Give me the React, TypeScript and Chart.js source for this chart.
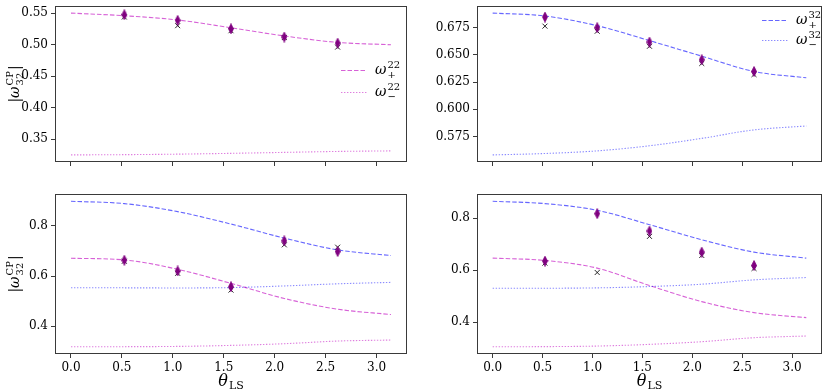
import React, { useEffect, useRef } from "react";
import { Chart, registerables } from "chart.js";
Chart.register(...registerables);

// ---------------- data ----------------
const THETA_CURVE = [0, 0.5236, 1.0472, 1.5708, 2.0944, 2.618, 3.1416];
const THETA_POINTS = [0.5236, 1.0472, 1.5708, 2.0944, 2.618];
const X_TICKS = [0, 0.5, 1.0, 1.5, 2.0, 2.5, 3.0];

// top-left panel (omega^22)
const A_PLUS = [0.55, 0.5458, 0.5391, 0.5267, 0.5137, 0.5035, 0.4998];
const A_MINUS = [0.325, 0.3254, 0.3262, 0.3275, 0.329, 0.3305, 0.3314];
const A_DIAMOND = [0.5474, 0.5385, 0.525, 0.512, 0.5024];
const A_CROSS = [0.5438, 0.53, 0.522, 0.5112, 0.496];
const A_YTICKS = [0.35, 0.4, 0.45, 0.5, 0.55];

// top-right panel (omega^32)
const B_PLUS = [0.6884, 0.6857, 0.6768, 0.6631, 0.6488, 0.6347, 0.6289];
const B_MINUS = [0.558, 0.5593, 0.5617, 0.5664, 0.5732, 0.581, 0.5846];
const B_DIAMOND = [0.6848, 0.675, 0.6618, 0.6455, 0.6347];
const B_CROSS = [0.6764, 0.6717, 0.6579, 0.6421, 0.6319];
const B_YTICKS = [0.575, 0.6, 0.625, 0.65, 0.675];

// bottom-left panel
const C_PLUS32 = [0.8973, 0.888, 0.856, 0.8067, 0.7507, 0.704, 0.6813];
const C_MINUS32 = [0.5533, 0.553, 0.5525, 0.554, 0.5605, 0.569, 0.5747];
const C_PLUS22 = [0.6707, 0.664, 0.6267, 0.5707, 0.5107, 0.468, 0.4467];
const C_MINUS22 = [0.3187, 0.3189, 0.32, 0.324, 0.3307, 0.3413, 0.3453];
const C_DIAMOND = [0.6627, 0.62, 0.5573, 0.74, 0.6973];
const C_CROSS = [0.6587, 0.6107, 0.544, 0.724, 0.7147];
const C_YTICKS = [0.4, 0.6, 0.8];

// bottom-right panel
const D_PLUS32 = [0.8656, 0.8566, 0.8309, 0.7756, 0.7177, 0.6701, 0.647];
const D_MINUS32 = [0.5312, 0.5312, 0.5325, 0.5376, 0.5466, 0.5633, 0.5723];
const D_PLUS22 = [0.647, 0.638, 0.6084, 0.5415, 0.4797, 0.4373, 0.418];
const D_MINUS22 = [0.3061, 0.3065, 0.3087, 0.3151, 0.3254, 0.3408, 0.3473];
const D_DIAMOND = [0.6354, 0.818, 0.7511, 0.6701, 0.6187];
const D_CROSS = [0.6277, 0.5916, 0.7305, 0.6572, 0.6071];
const D_YTICKS = [0.4, 0.6, 0.8];

// ---------------- styles ----------------
const FONT = "'DejaVu Serif', serif";
const FRAME = "#3a3a3a";
const MAG_DASH = "rgba(191,0,191,0.62)";
const MAG_DOT = "rgba(191,0,191,0.5)";
const BLUE_DASH = "rgba(0,0,255,0.6)";
const BLUE_DOT = "rgba(0,0,255,0.45)";
const PURPLE = "#800080";

type LineSpec = { values: number[]; color: string; dotted: boolean };
type LegendSpec = {
  x: number;
  y: number;
  gap: number;
  sup: string;
  items: { color: string; dotted: boolean; sub: string }[];
};
type PanelSpec = {
  left: number;
  top: number;
  width: number;
  height: number;
  padTop: number;
  padRight: number;
  yAxisW: number;
  xAxisH: number;
  yTicks: number[];
  yDec: number;
  showXLabels: boolean;
  lines: LineSpec[];
  diamonds: number[];
  crosses: number[];
  legend?: LegendSpec;
  ylabel: boolean;
  xlabel: boolean;
};

const X_MIN = -0.157;
const X_MAX = 3.299;

function makeDiamond(): HTMLCanvasElement {
  const c = document.createElement("canvas");
  c.width = 6;
  c.height = 11;
  const g = c.getContext("2d")!;
  g.fillStyle = PURPLE;
  g.strokeStyle = PURPLE;
  g.lineWidth = 0.8;
  g.beginPath();
  g.moveTo(3, 0.5);
  g.lineTo(5.5, 5.5);
  g.lineTo(3, 10.5);
  g.lineTo(0.5, 5.5);
  g.closePath();
  g.fill();
  g.stroke();
  return c;
}

function drawOmega(ctx: CanvasRenderingContext2D, x: number, base: number, sup: string, sub: string, size: number) {
  ctx.font = `italic ${size}px ${FONT}`;
  ctx.fillText("ω", x, base);
  const w = ctx.measureText("ω").width;
  const s = Math.round(size * 0.7);
  ctx.font = `${s}px ${FONT}`;
  ctx.fillText(sup, x + w + 1, base - size * 0.42);
  ctx.fillText(sub, x + w + 1, base + size * 0.32);
}

function drawYLabel(ctx: CanvasRenderingContext2D, cx: number, cy: number) {
  ctx.save();
  ctx.translate(cx, cy);
  ctx.rotate(-Math.PI / 2);
  ctx.fillStyle = "#000";
  ctx.textBaseline = "alphabetic";
  ctx.textAlign = "left";
  const big = 14;
  const small = 10;
  ctx.font = `${big}px ${FONT}`;
  const bar = ctx.measureText("|").width;
  ctx.font = `italic ${big}px ${FONT}`;
  const om = ctx.measureText("ω").width;
  ctx.font = `${small}px ${FONT}`;
  const sc = Math.max(ctx.measureText("CP").width, ctx.measureText("32").width);
  const total = bar + om + 1 + sc + 1 + bar;
  let x = -total / 2;
  ctx.font = `${big}px ${FONT}`;
  ctx.fillText("|", x, 0);
  x += bar;
  ctx.font = `italic ${big}px ${FONT}`;
  ctx.fillText("ω", x, 0);
  x += om + 1;
  ctx.font = `${small}px ${FONT}`;
  ctx.fillText("CP", x, -big * 0.45);
  ctx.fillText("32", x, big * 0.3);
  x += sc + 1;
  ctx.font = `${big}px ${FONT}`;
  ctx.fillText("|", x, 0);
  ctx.restore();
}

function drawXLabel(ctx: CanvasRenderingContext2D, cx: number, base: number) {
  ctx.save();
  ctx.fillStyle = "#000";
  ctx.textAlign = "left";
  ctx.textBaseline = "alphabetic";
  ctx.font = `italic 16px ${FONT}`;
  const wt = ctx.measureText("θ").width;
  ctx.font = `11px ${FONT}`;
  const wl = ctx.measureText("LS").width;
  const x0 = cx - (wt + 1 + wl) / 2;
  ctx.font = `italic 16px ${FONT}`;
  ctx.fillText("θ", x0, base);
  ctx.font = `11px ${FONT}`;
  ctx.fillText("LS", x0 + wt + 1, base + 3);
  ctx.restore();
}

function Panel({ spec }: { spec: PanelSpec }) {
  const ref = useRef<HTMLCanvasElement | null>(null);
  useEffect(() => {
    const canvas = ref.current;
    if (!canvas) return;
    const diamond = makeDiamond();
    const all: number[] = [];
    spec.lines.forEach((l) => all.push(...l.values));
    all.push(...spec.diamonds, ...spec.crosses);
    const lo = Math.min(...all);
    const hi = Math.max(...all);
    const m = (hi - lo) * 0.05;

    const datasets: any[] = [];
    datasets.push({
      type: "scatter",
      data: THETA_POINTS.map((x, i) => ({ x, y: spec.diamonds[i] })),
      pointStyle: diamond,
      pointRadius: 5,
      backgroundColor: PURPLE,
      borderColor: PURPLE,
    });
    datasets.push({
      type: "scatter",
      data: THETA_POINTS.map((x, i) => ({ x, y: spec.crosses[i] })),
      pointStyle: "crossRot",
      pointRadius: 3.5,
      borderColor: "rgba(0,0,0,0.85)",
      borderWidth: 1,
    });
    spec.lines.forEach((l) => {
      datasets.push({
        type: "line",
        data: THETA_CURVE.map((x, i) => ({ x, y: l.values[i] })),
        borderColor: l.color,
        borderWidth: 1.1,
        borderDash: l.dotted ? [1.4, 1.6] : [4.5, 2],
        pointRadius: 0,
        fill: false,
        cubicInterpolationMode: "monotone",
      });
    });

    const framePlugin = {
      id: "frameAndText",
      afterDraw(chart: any) {
        const ctx: CanvasRenderingContext2D = chart.ctx;
        const a = chart.chartArea;
        ctx.save();
        ctx.strokeStyle = FRAME;
        ctx.lineWidth = 1;
        ctx.strokeRect(Math.round(a.left) + 0.5, Math.round(a.top) + 0.5, Math.round(a.right - a.left) - 1, Math.round(a.bottom - a.top) - 1);
        ctx.fillStyle = "#000";
        ctx.textAlign = "left";
        ctx.textBaseline = "alphabetic";
        if (spec.legend) {
          const L = spec.legend;
          L.items.forEach((it, i) => {
            const y = L.y + i * L.gap;
            ctx.save();
            ctx.strokeStyle = it.color;
            ctx.lineWidth = 1.1;
            ctx.setLineDash(it.dotted ? [1.4, 1.6] : [4.5, 2]);
            ctx.beginPath();
            ctx.moveTo(L.x, y + 0.5);
            ctx.lineTo(L.x + 26, y + 0.5);
            ctx.stroke();
            ctx.restore();
            ctx.fillStyle = "#000";
            drawOmega(ctx, L.x + 34, y + 4, L.sup, it.sub, 14);
          });
        }
        if (spec.ylabel) drawYLabel(ctx, 19, (a.top + a.bottom) / 2);
        if (spec.xlabel) drawXLabel(ctx, (a.left + a.right) / 2, spec.height - 4);
        ctx.restore();
      },
    };

    const chart = new Chart(canvas, {
      type: "scatter",
      data: { datasets },
      options: {
        animation: false,
        responsive: false,
        maintainAspectRatio: false,
        layout: { padding: { top: spec.padTop, right: spec.padRight, left: 0, bottom: 0 } },
        plugins: { legend: { display: false }, tooltip: { enabled: false } },
        scales: {
          x: {
            type: "linear",
            min: X_MIN,
            max: X_MAX,
            afterBuildTicks: (s: any) => {
              s.ticks = X_TICKS.map((v) => ({ value: v }));
            },
            afterFit: (s: any) => {
              s.height = spec.xAxisH;
              s.paddingLeft = 0;
              s.paddingRight = 0;
            },
            grid: { display: true, drawOnChartArea: false, drawTicks: true, tickLength: 4, color: FRAME, lineWidth: 1 },
            border: { display: false },
            ticks: {
              display: spec.showXLabels,
              autoSkip: false,
              maxRotation: 0,
              padding: 3,
              color: "#000",
              font: { family: FONT, size: 12 },
              callback: (v: any) => Number(v).toFixed(1),
            },
          },
          y: {
            type: "linear",
            min: lo - m,
            max: hi + m,
            afterBuildTicks: (s: any) => {
              s.ticks = spec.yTicks.map((v) => ({ value: v }));
            },
            afterFit: (s: any) => {
              s.width = spec.yAxisW;
              s.paddingTop = 0;
              s.paddingBottom = 0;
            },
            grid: { display: true, drawOnChartArea: false, drawTicks: true, tickLength: 4, color: FRAME, lineWidth: 1 },
            border: { display: false },
            ticks: {
              autoSkip: false,
              padding: 3,
              color: "#000",
              font: { family: FONT, size: 12 },
              callback: (v: any) => Number(v).toFixed(spec.yDec),
            },
          },
        },
      },
      plugins: [framePlugin],
    } as any);
    return () => chart.destroy();
  }, [spec]);

  return (
    <canvas
      ref={ref}
      width={spec.width}
      height={spec.height}
      style={{ position: "absolute", left: spec.left, top: spec.top, width: spec.width, height: spec.height }}
    />
  );
}

const PANELS: PanelSpec[] = [
  {
    left: 0, top: 0, width: 415, height: 180, padTop: 3, padRight: 8, yAxisW: 55, xAxisH: 18,
    yTicks: A_YTICKS, yDec: 2, showXLabels: false,
    lines: [
      { values: A_PLUS, color: MAG_DASH, dotted: false },
      { values: A_MINUS, color: MAG_DOT, dotted: true },
    ],
    diamonds: A_DIAMOND, crosses: A_CROSS,
    legend: {
      x: 341, y: 70, gap: 22, sup: "22",
      items: [
        { color: MAG_DASH, dotted: false, sub: "+" },
        { color: MAG_DOT, dotted: true, sub: "−" },
      ],
    },
    ylabel: true, xlabel: false,
  },
  {
    left: 415, top: 0, width: 415, height: 180, padTop: 3, padRight: 8, yAxisW: 62, xAxisH: 18,
    yTicks: B_YTICKS, yDec: 3, showXLabels: false,
    lines: [
      { values: B_PLUS, color: BLUE_DASH, dotted: false },
      { values: B_MINUS, color: BLUE_DOT, dotted: true },
    ],
    diamonds: B_DIAMOND, crosses: B_CROSS,
    legend: {
      x: 347, y: 20, gap: 20, sup: "32",
      items: [
        { color: BLUE_DASH, dotted: false, sub: "+" },
        { color: BLUE_DOT, dotted: true, sub: "−" },
      ],
    },
    ylabel: false, xlabel: false,
  },
  {
    left: 0, top: 180, width: 415, height: 210, padTop: 14, padRight: 8, yAxisW: 55, xAxisH: 36,
    yTicks: C_YTICKS, yDec: 1, showXLabels: true,
    lines: [
      { values: C_PLUS32, color: BLUE_DASH, dotted: false },
      { values: C_MINUS32, color: BLUE_DOT, dotted: true },
      { values: C_PLUS22, color: MAG_DASH, dotted: false },
      { values: C_MINUS22, color: MAG_DOT, dotted: true },
    ],
    diamonds: C_DIAMOND, crosses: C_CROSS,
    ylabel: true, xlabel: true,
  },
  {
    left: 415, top: 180, width: 415, height: 210, padTop: 14, padRight: 8, yAxisW: 62, xAxisH: 36,
    yTicks: D_YTICKS, yDec: 1, showXLabels: true,
    lines: [
      { values: D_PLUS32, color: BLUE_DASH, dotted: false },
      { values: D_MINUS32, color: BLUE_DOT, dotted: true },
      { values: D_PLUS22, color: MAG_DASH, dotted: false },
      { values: D_MINUS22, color: MAG_DOT, dotted: true },
    ],
    diamonds: D_DIAMOND, crosses: D_CROSS,
    ylabel: false, xlabel: true,
  },
];

export default function App() {
  return (
    <div style={{ position: "fixed", left: 0, top: 0, width: 830, height: 390, background: "#fff", overflow: "hidden" }}>
      {PANELS.map((p, i) => (
        <Panel key={i} spec={p} />
      ))}
    </div>
  );
}
